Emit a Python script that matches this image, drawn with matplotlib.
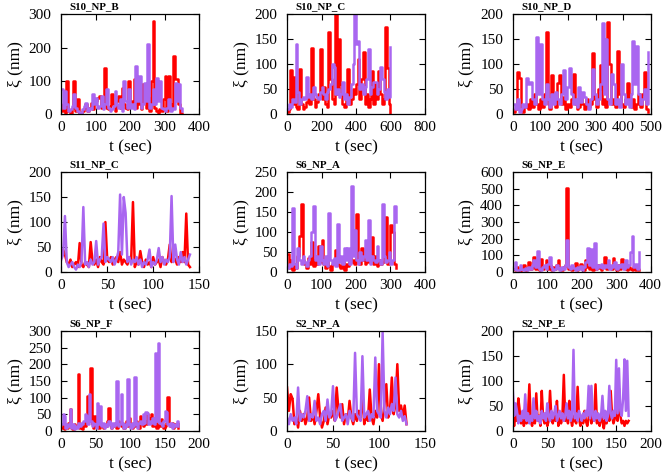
import matplotlib
matplotlib.use('Agg')
import matplotlib.pyplot as plt
import numpy as np

plt.rcParams['font.family'] = ['Liberation Serif', 'DejaVu Serif']

titles = ['S10_NP_B', 'S10_NP_C', 'S10_NP_D',
          'S11_NP_C', 'S6_NP_A', 'S6_NP_E',
          'S6_NP_F', 'S2_NP_A', 'S2_NP_E']

# sampling step (sec) of each panel's series
steps = [5, 10, 7, 2, 5, 5, 2, 2, 2]

x_max = [400, 800, 500, 150, 400, 400, 200, 150, 200]
x_step = [100, 200, 100, 50, 100, 100, 50, 50, 50]
y_max = [300, 200, 200, 200, 250, 600, 300, 150, 200]
y_step = [100, 50, 50, 50, 50, 100, 50, 50, 50]

red_b = [10, 30, 5, 100, 10, 5, 20, 100, 10, 45, 5, 5, 10, 20, 30, 10, 20, 35, 15, 30,
         40, 50, 55, 20, 30, 140, 20, 15, 25, 60, 30, 10, 40, 55, 20, 80, 30, 20, 15, 100,
         40, 30, 105, 20, 95, 30, 15, 90, 40, 20, 50, 10, 100, 280, 20, 10, 5, 15, 10, 45,
         115, 10, 115, 30, 20, 175, 105, 105, 30, 5, 0]
purple_b = [75, 20, 70, 30, 10, 15, 25, 60, 20, 10, 5, 0, 15, 25, 35, 10, 20, 15, 60, 30,
            50, 20, 25, 55, 15, 30, 75, 20, 10, 15, 25, 70, 30, 20, 45, 10, 100, 40, 20, 75,
            20, 30, 15, 145, 40, 115, 20, 30, 95, 40, 210, 20, 30, 75, 30, 110, 40, 100, 20, 15,
            10, 20, 45, 10, 20, 15, 95, 40, 90, 20, 10]

red_c = [5, 10, 88, 20, 75, 15, 10, 90, 20, 10, 15, 25, 35, 20, 133, 30, 15, 25, 40, 130,
         30, 55, 20, 15, 165, 70, 30, 20, 200, 40, 150, 60, 20, 15, 30, 90, 20, 30, 50, 40,
         60, 110, 30, 70, 125, 20, 40, 15, 30, 87, 20, 60, 30, 87, 40, 20, 30, 175, 93, 20, 0]
purple_c = [10, 20, 15, 30, 25, 140, 45, 20, 30, 35, 30, 75, 35, 40, 30, 55, 40, 35, 30, 45,
            55, 40, 30, 45, 50, 60, 100, 95, 40, 50, 35, 40, 65, 30, 40, 20, 35, 60, 100, 200,
            140, 147, 50, 60, 40, 55, 70, 130, 40, 55, 65, 65, 40, 50, 95, 70, 45, 30, 50, 35, 135]

red_d = [5, 10, 85, 72, 10, 5, 15, 20, 10, 30, 15, 40, 20, 10, 30, 15, 40, 165, 20, 10,
         78, 30, 15, 63, 78, 20, 35, 10, 20, 15, 30, 80, 20, 10, 15, 40, 20, 10, 30, 15,
         20, 122, 30, 15, 50, 98, 20, 30, 15, 185, 100, 20, 30, 15, 127, 40, 20, 15, 30, 62,
         20, 15, 30, 10, 20, 40, 15, 40, 85, 10, 5]
purple_d = [20, 10, 30, 5, 10, 20, 15, 72, 60, 65, 30, 20, 155, 40, 140, 30, 20, 60, 30, 15,
            40, 20, 45, 30, 20, 40, 88, 30, 55, 92, 40, 20, 30, 15, 55, 25, 45, 35, 20, 10,
            30, 90, 40, 20, 30, 60, 183, 40, 150, 30, 20, 80, 60, 20, 30, 15, 100, 40, 20, 30,
            15, 40, 147, 60, 137, 40, 20, 30, 50, 20, 125]

red_e = [30, 45, 35, 20, 15, 25, 10, 15, 20, 10, 58, 15, 10, 20, 15, 10, 60, 20, 15, 25,
         10, 30, 20, 15, 100, 25, 20, 30, 15, 25, 30, 20, 40, 15, 25, 20, 15, 30, 20, 140,
         10, 20, 15, 42, 20, 10, 25, 15, 20, 10, 30, 15, 20, 25, 10, 30, 20, 15, 25, 55,
         20, 30, 25, 15, 30, 20, 40, 20, 117, 15, 10]
purple_e = [25, 35, 112, 20, 10, 15, 20, 10, 5, 15, 10, 20, 130, 15, 20, 10, 25, 15, 20, 62,
            15, 25, 30, 97, 20, 30, 25, 20, 30, 15, 25, 40, 155, 35, 150, 118, 20, 30, 15, 25,
            20, 30, 15, 25, 10, 20, 15, 25, 45, 10, 20, 15, 25, 48, 20, 30, 15, 25, 20, 30,
            152, 20, 55, 25, 15, 40, 20, 30, 15, 25, 35]

red_f = [45, 10, 30, 5, 20, 10, 40, 90, 170, 30, 20, 10, 35, 20, 75, 15, 30, 20, 65, 25,
         80, 20, 10, 35, 15, 5, 20, 30, 55, 20, 15, 10, 30, 5, 20, 15, 40, 25, 30, 20,
         145, 30, 20, 60, 30, 20, 40, 25, 30, 87, 20, 40, 15, 30, 20, 25, 40, 138, 20, 30,
         117, 100, 20, 10]
purple_f = [10, 20, 15, 160, 20, 10, 60, 30, 20, 40, 25, 15, 30, 40, 100, 165, 30, 40, 20, 65,
            30, 20, 40, 15, 147, 30, 20, 35, 15, 120, 25, 40, 20, 60, 30, 60, 20, 215, 40, 105,
            30, 20, 50, 30, 40, 80, 30, 130, 20, 40, 30, 25, 65, 30, 20, 170, 40, 25, 30, 50,
            20, 30, 165, 125]

red_g = [20, 10, 30, 15, 5, 20, 40, 10, 25, 60, 20, 30, 90, 20, 40, 10, 80, 20, 30, 75,
         20, 40, 15, 30, 20, 40, 75, 20, 10, 30, 40, 505, 20, 30, 10, 20, 55, 15, 30, 50,
         20, 10, 70, 30, 20, 40, 15, 30, 20, 40, 25, 15, 30, 90, 20, 40, 30, 20, 85, 30,
         15, 40, 20, 80, 30, 20, 10, 30, 20, 10, 30, 15, 20, 10]
purple_g = [20, 60, 15, 10, 40, 20, 10, 25, 15, 30, 20, 40, 75, 30, 125, 20, 10, 30, 40, 20,
            50, 90, 30, 15, 20, 40, 25, 10, 30, 20, 40, 190, 30, 20, 40, 25, 15, 30, 20, 35,
            15, 30, 60, 145, 40, 140, 30, 175, 20, 40, 30, 50, 25, 40, 30, 75, 20, 40, 30, 60,
            20, 40, 30, 50, 20, 70, 30, 40, 120, 215, 30, 50, 20, 120]

red_h = [10, 20, 5, 15, 10, 25, 65, 10, 5, 20, 10, 15, 170, 10, 20, 5, 25, 15, 40, 105,
         30, 190, 20, 10, 45, 15, 20, 10, 25, 15, 10, 20, 15, 30, 70, 20, 10, 15, 20, 25,
         10, 30, 20, 15, 25, 10, 20, 30, 15, 40, 20, 10, 25, 15, 30, 20, 10, 45, 20, 15,
         30, 20, 50, 25, 40, 50, 15, 20, 30, 10, 20, 15, 35, 20, 10, 15, 25, 102, 20, 15,
         25, 10, 20, 15, 25, 10]
purple_h = [20, 50, 45, 10, 20, 15, 65, 10, 20, 5, 15, 10, 25, 15, 25, 20, 30, 50, 45, 20,
            110, 30, 15, 25, 20, 10, 85, 20, 75, 15, 25, 10, 20, 15, 30, 20, 10, 25, 15, 20,
            150, 15, 20, 110, 25, 10, 20, 15, 157, 20, 10, 25, 15, 162, 20, 10, 25, 30, 20, 50,
            25, 57, 55, 20, 30, 25, 40, 20, 235, 30, 265, 25, 20, 15, 30, 60, 58, 20, 15, 25,
            10, 20, 15, 20, 30, 15]

red_i = [65, 30, 55, 48, 10, 20, 5, 30, 15, 25, 10, 20, 50, 15, 25, 10, 30, 55, 20, 5,
         15, 35, 10, 25, 20, 30, 15, 65, 30, 20, 40, 10, 25, 15, 45, 20, 10, 25, 15, 30,
         20, 55, 10, 25, 15, 62, 20, 10, 30, 20, 100, 25, 15, 40, 70, 20, 30, 80, 25, 40,
         100, 30, 38, 20, 38, 10]
purple_i = [20, 10, 25, 15, 20, 10, 65, 15, 25, 20, 30, 52, 15, 25, 20, 45, 15, 20, 10, 25,
            30, 15, 47, 20, 25, 67, 15, 20, 30, 40, 15, 20, 25, 10, 30, 20, 15, 117, 25, 20,
            15, 112, 20, 25, 30, 15, 25, 20, 110, 30, 25, 20, 148, 30, 20, 35, 25, 40, 30, 80,
            25, 20, 30, 15, 22, 10]

red_j = [20, 10, 35, 20, 65, 40, 15, 30, 10, 25, 15, 30, 93, 20, 10, 35, 15, 75, 20, 30,
         10, 80, 25, 15, 30, 10, 20, 80, 25, 15, 35, 20, 60, 10, 25, 15, 30, 112, 20, 40,
         15, 60, 25, 10, 30, 20, 15, 88, 25, 10, 30, 15, 40, 20, 10, 25, 50, 15, 30, 20,
         93, 15, 25, 10, 30, 20, 5, 25, 15, 40, 20, 80, 30, 15, 25, 40, 20, 85, 30, 15,
         20, 10, 20, 15, 20]
purple_j = [80, 30, 55, 40, 15, 30, 20, 40, 25, 73, 20, 35, 15, 30, 20, 65, 25, 40, 20, 30,
            15, 40, 25, 35, 20, 55, 30, 20, 40, 25, 35, 50, 20, 30, 40, 25, 35, 20, 30, 55,
            25, 40, 20, 30, 162, 25, 35, 20, 40, 30, 20, 35, 25, 40, 30, 90, 25, 90, 30, 20,
            40, 25, 35, 20, 30, 70, 25, 40, 20, 30, 90, 35, 25, 40, 30, 142, 35, 125, 40, 30,
            65, 143, 40, 140, 30]

red_series = [red_b, red_c, red_d, red_e, red_f, red_g, red_h, red_i, red_j]
purple_series = [purple_b, purple_c, purple_d, purple_e, purple_f, purple_g, purple_h, purple_i, purple_j]

# step-like panels vs plain line panels
draw = ['steps-post', 'steps-post', 'steps-post', 'default', 'steps-post',
        'steps-post', 'steps-post', 'default', 'default']

fig = plt.figure(figsize=(6.66, 4.74), dpi=100)

lefts = [0.092, 0.431, 0.770]
bottoms = [0.759, 0.426, 0.091]
w, h = 0.207, 0.211

for k in range(9):
    r, c = divmod(k, 3)
    ax = fig.add_axes([lefts[c], bottoms[r], w, h])
    red = np.array(red_series[k])
    purple = np.array(purple_series[k])
    ax.plot(np.arange(len(red)) * steps[k], red, color='#ff0000', lw=1.8,
            drawstyle=draw[k])
    ax.plot(np.arange(len(purple)) * steps[k], purple, color='#a966f0', lw=1.8,
            drawstyle=draw[k])
    ax.set_xlim(0, x_max[k])
    ax.set_ylim(0, y_max[k])
    ax.set_xticks(np.arange(0, x_max[k] + 1, x_step[k]))
    ax.set_yticks(np.arange(0, y_max[k] + 1, y_step[k]))
    ax.tick_params(direction='in', top=True, right=True, length=4, labelsize=11)
    ax.tick_params(axis='x', pad=5)
    ax.tick_params(axis='y', pad=7)
    ax.set_xlabel('t (sec)', fontsize=12.5, labelpad=4)
    ax.set_ylabel('ξ (nm)', fontsize=12.5, labelpad=4)
    ax.text(0.06, 1.03, titles[k], transform=ax.transAxes, fontsize=7.8,
            fontweight='bold', ha='left', va='bottom')
    for s in ax.spines.values():
        s.set_linewidth(0.9)

fig.savefig('out.png', dpi=100)
